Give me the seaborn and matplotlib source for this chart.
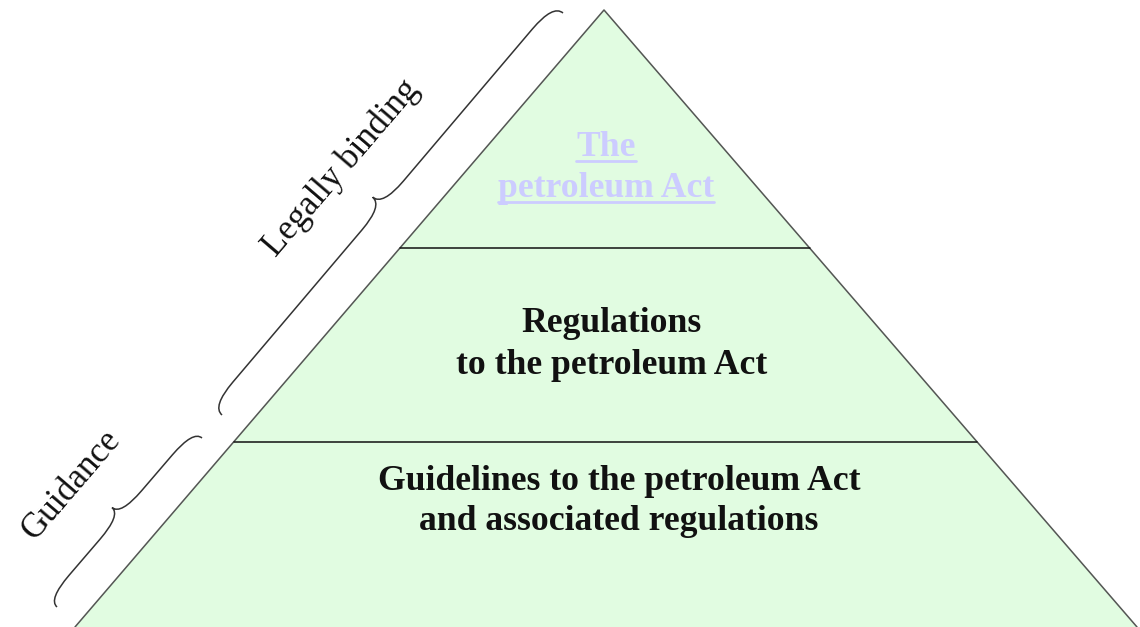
import numpy as np
import matplotlib
matplotlib.use("Agg")
import matplotlib.pyplot as plt
from matplotlib.path import Path
from matplotlib.patches import PathPatch
import seaborn as sns
import pandas as pd

# pyramid geometry (pixel space of the picture)
apex = (604, 10)
base_y = 627
base_left = 75
base_right = 1137
divider_y = [248, 442]

# tier texts: lines, centre x, baselines
tier_lines = [
    ["The", "petroleum Act"],
    ["Regulations", "to the petroleum Act"],
    ["Guidelines to the petroleum Act", "and associated regulations"],
]
tier_x = [606, 612, 619]
tier_baselines = [[156, 197], [332, 374], [490, 530]]
tier_colors = ["#ccccff", "#111111", "#111111"]

# braces: bottom end, top end, depth, label, label centre
brace_labels = ["Legally binding", "Guidance"]
brace_start = [(222, 415), (57, 607)]
brace_end = [(563, 13), (202, 438)]
brace_depth = [26, 23]
label_pos = [(341, 168), (72, 485)]

fill_color = "#e1fce1"
edge_color = "#555555"

sns.set_theme(style="white")
plt.rcParams["font.family"] = ["Liberation Serif", "DejaVu Serif"]

fig = plt.figure(figsize=(11.4, 6.27), dpi=100)
ax = fig.add_axes([0, 0, 1, 1])
ax.set_xlim(0, 1140)
ax.set_ylim(627, 0)
ax.axis("off")


def edge_x(y):
    t = (y - apex[1]) / (base_y - apex[1])
    return apex[0] + t * (base_left - apex[0]), apex[0] + t * (base_right - apex[0])


# filled pyramid
ax.fill([base_left, apex[0], base_right], [base_y, apex[1], base_y],
        color=fill_color, zorder=1)
outline = pd.DataFrame({"x": [base_left, apex[0], base_right],
                        "y": [base_y, apex[1], base_y]})
sns.lineplot(data=outline, x="x", y="y", sort=False, color=edge_color,
             lw=1.1, ax=ax, zorder=3)

for y in divider_y:
    xl, xr = edge_x(y)
    seg = pd.DataFrame({"x": [xl, xr], "y": [y, y]})
    sns.lineplot(data=seg, x="x", y="y", color="#111111", lw=1.1, ax=ax, zorder=3)

# tier texts
texts = []
for lines, cx, bls, col in zip(tier_lines, tier_x, tier_baselines, tier_colors):
    for line, bl in zip(lines, bls):
        t = ax.text(cx, bl, line, ha="center", va="baseline", fontsize=25.7,
                    fontweight="bold", color=col, zorder=4)
        texts.append((t, bl, col))


def brace(p0, p1, w):
    p0 = np.array(p0, float)
    p1 = np.array(p1, float)
    d = p1 - p0
    L = np.hypot(*d)
    u = d / L
    n = np.array([u[1], -u[0]])
    h = min(32, L * 0.16)
    m = L / 2
    loc = [
        (0, 0), (0, w / 2), (h, w / 2),
        (m - h, w / 2),
        (m, w / 2), (m, w),
        (m, w / 2), (m + h, w / 2),
        (L - h, w / 2),
        (L, w / 2), (L, 0),
    ]
    codes = [Path.MOVETO, Path.CURVE3, Path.CURVE3, Path.LINETO,
             Path.CURVE3, Path.CURVE3, Path.CURVE3, Path.CURVE3,
             Path.LINETO, Path.CURVE3, Path.CURVE3]
    pts = [p0 + s * u + v * n for s, v in loc]
    return PathPatch(Path(pts, codes), fc="none", ec="#333333", lw=1.1, zorder=3)


angle = np.degrees(np.arctan2(base_y - apex[1], apex[0] - base_left))
for lab, s, e, w, pos in zip(brace_labels, brace_start, brace_end, brace_depth, label_pos):
    ax.add_patch(brace(s, e, w))
    ax.text(pos[0], pos[1], lab, rotation=angle, rotation_mode="anchor",
            ha="center", va="center", fontsize=25, color="#111111")

# underline the link-styled title
fig.canvas.draw()
renderer = fig.canvas.get_renderer()
inv = ax.transData.inverted()
for t, bl, col in texts[:2]:
    bb = t.get_window_extent(renderer)
    (x0, _), (x1, _) = inv.transform([(bb.x0, bb.y0), (bb.x1, bb.y1)])
    ax.plot([x0, x1], [bl + 5, bl + 5], color=col, lw=2, zorder=4)

fig.savefig("out.png", dpi=100)
